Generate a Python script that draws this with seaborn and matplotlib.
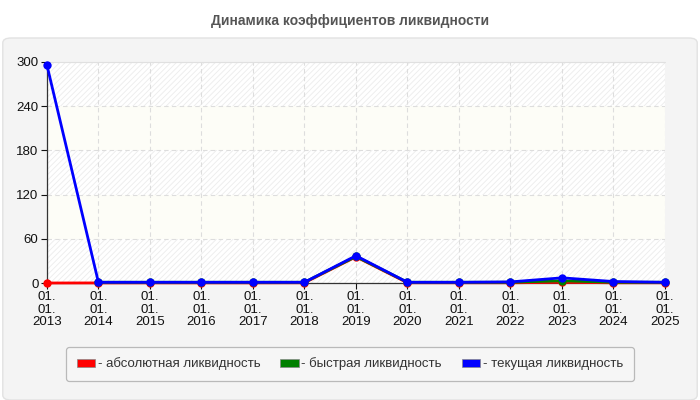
import matplotlib
matplotlib.use('Agg')
import matplotlib.pyplot as plt
from matplotlib.patches import FancyBboxPatch, Patch
import numpy as np
import pandas as pd
import seaborn as sns

years = ['2013', '2014', '2015', '2016', '2017', '2018', '2019',
         '2020', '2021', '2022', '2023', '2024', '2025']
absolute = [0.0, 0.1, 0.2, 0.2, 0.2, 0.3, 35.5, 0.3, 0.3, 0.3, 1.0, 0.3, 0.3]
quick = [np.nan, 1.0, 1.0, 1.0, 1.0, 1.0, 36.0, 1.0, 1.0, 1.0, 3.0, 1.0, 1.0]
current = [296.0, 1.0, 1.0, 1.0, 1.0, 1.0, 37.0, 1.0, 1.0, 1.5, 7.0, 2.0, 1.0]

series_names = ['абсолютная ликвидность', 'быстрая ликвидность', 'текущая ликвидность']
series_colors = ['#ff0000', '#008000', '#0000ff']

df = pd.DataFrame({
    'idx': list(range(len(years))) * 3,
    'value': absolute + quick + current,
    'series': [series_names[0]] * len(years) + [series_names[1]] * len(years) + [series_names[2]] * len(years),
})

sns.set_style('white')
plt.rcParams['font.family'] = ['Liberation Sans', 'DejaVu Sans']
plt.rcParams['hatch.linewidth'] = 0.6

fig = plt.figure(figsize=(7, 4), dpi=100)
fig.patch.set_facecolor('white')

# grey rounded panel behind the chart
panel = FancyBboxPatch((0.004, 0.0), 0.992, 0.905, boxstyle='round,pad=0,rounding_size=0.012',
                       transform=fig.transFigure, facecolor='#f4f4f4', edgecolor='#e2e2e2',
                       linewidth=1, zorder=-5)
fig.patches.append(panel)

fig.text(0.5, 0.948, 'Динамика коэффициентов ликвидности', ha='center', va='center',
         fontsize=10, fontweight='bold', color='#555555')

ax = fig.add_axes([0.067, 0.2925, 0.883, 0.5525])
ax.set_zorder(2)
ax.set_facecolor('#fdfdf7')

# alternating bands
for lo in (0, 120, 240):
    ax.axhspan(lo, lo + 60, facecolor='white', edgecolor='#ececec', hatch='//////',
               linewidth=0, zorder=0)

sns.lineplot(data=df, x='idx', y='value', hue='series', palette=series_colors,
             marker='o', markersize=6, markeredgewidth=0, linewidth=2,
             legend=False, ax=ax, zorder=3)

ax.set_xlim(0, len(years) - 1)
ax.set_ylim(0, 300)
ax.set_yticks([0, 60, 120, 180, 240, 300])
ax.set_xticks(range(len(years)))
ax.set_xticklabels([f'01.\n01.\n{y}' for y in years], linespacing=1.05)
ax.tick_params(axis='both', labelsize=9.5, colors='#111111', length=4, width=0.8,
               direction='out', bottom=True, left=True, pad=2)
ax.set_xlabel('')
ax.set_ylabel('')
ax.grid(True, color='#dddddd', linestyle=(0, (4, 3)), linewidth=0.8)
ax.set_axisbelow(True)
for s in ('top', 'right'):
    ax.spines[s].set_visible(False)
for s in ('left', 'bottom'):
    ax.spines[s].set_color('#333333')
    ax.spines[s].set_linewidth(0.9)
ax.axhline(300, color='#e0e0e0', linewidth=0.8, zorder=1)
for ln in ax.lines:
    ln.set_clip_on(False)

handles = [Patch(facecolor=c, edgecolor='#888888', linewidth=0.5, label='- ' + n)
           for c, n in zip(series_colors, series_names)]
leg = fig.legend(handles=handles, loc='center', bbox_to_anchor=(0.5, 0.09), ncol=3,
                 frameon=True, fancybox=True, fontsize=9.5, handlelength=1.4,
                 handleheight=0.55, handletextpad=0.2, columnspacing=1.5,
                 borderpad=0.8, labelcolor='#333333')
leg.get_frame().set_edgecolor('#aaaaaa')
leg.get_frame().set_facecolor('#f7f7f7')
leg.get_frame().set_linewidth(0.9)

fig.savefig('out.png', dpi=100)
